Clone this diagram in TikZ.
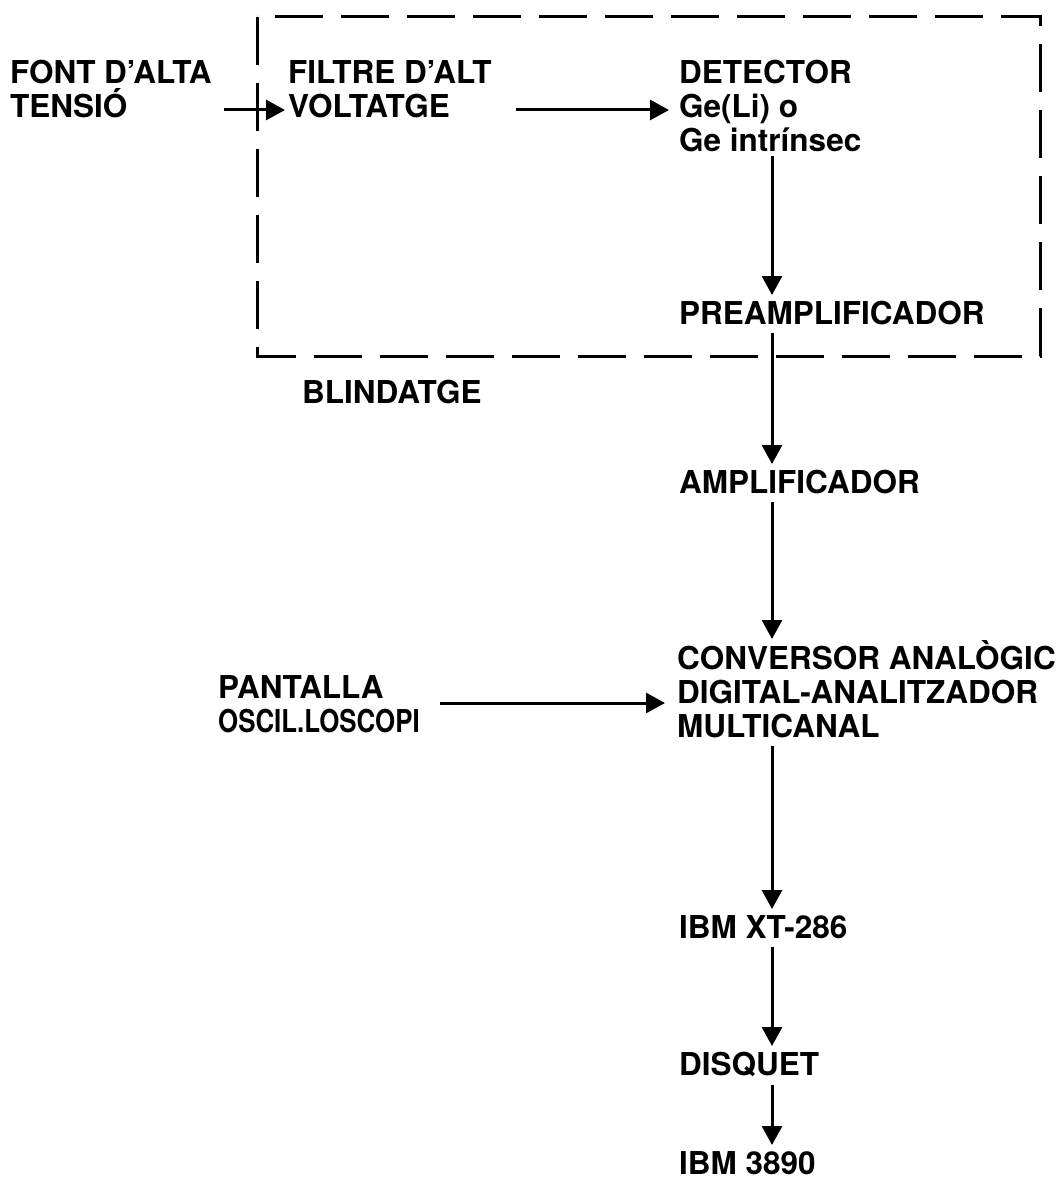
\documentclass[tikz,border=0pt]{standalone}
\usepackage{fontspec}
\setmainfont{TeX Gyre Heros}
\usetikzlibrary{arrows.meta}
\tikzset{lbl/.style = {anchor=north west, inner sep=0, align=left,
                       font=\bfseries\fontsize{31.5}{34}\selectfont,
                       execute at begin node=\rule{0pt}{28pt}}}
\tikzset{arr/.style = {-{Triangle[length=19pt,width=20pt]}, line width=3pt}}
\tikzset{vert/.style = {arr, shorten <=8pt, shorten >=1pt}}
\tikzset{blind/.style = {line width=3pt, dash pattern=on 48pt off 18pt}}

\begin{document}
\begin{tikzpicture}[x=1pt,y=-1pt]
      \useasboundingbox (0,0) rectangle (1063,1182);
      % shielding
      \draw[blind] (257,17) rectangle (1040,356);

      \node[lbl] (font) at (10,60) {FONT D’ALTA\\TENSIÓ};
      \node[lbl] (filtre) at (288,60) {FILTRE D’ALT\\VOLTATGE};
      \node[lbl] (det) at (679,60) {DETECTOR\\Ge(Li) o\\Ge intrínsec};
      \node[lbl] (pre) at (679,296) {PREAMPLIFICADOR};
      \node[lbl] (blind) at (302,375) {BLINDATGE};
      \node[lbl] (amp) at (679,465) {AMPLIFICADOR};
      \node[lbl] (conv) at (677,640) {CONVERSOR ANALÒGIC\\DIGITAL-ANALITZADOR\\MULTICANAL};
      \node[lbl] (pant) at (218,675) {PANTALLA\\\scalebox{0.82}[1]{OSCIL.LOSCOPI}};
      \node[lbl] (xt) at (679,910) {IBM XT-286};
      \node[lbl] (disq) at (679,1047) {DISQUET};
      \node[lbl] (ibm) at (679,1146) {IBM 3890};

      \coordinate (col) at (772,0);
      \coordinate (rowb) at (0,110);
      \coordinate (rowp) at (0,703);

      \draw[arr, shorten <=12pt, shorten >=3pt] (font.east |- rowb) -- (filtre.west |- rowb);
      \draw[arr, shorten <=24pt, shorten >=10pt] (filtre.east |- rowb) -- (det.west |- rowb);
      \draw[arr, shorten <=20pt, shorten >=12pt] (pant.east |- rowp) -- (conv.west |- rowp);

      \draw[vert, shorten <=4pt] (det.south -| col) -- (pre.north -| col);
      \draw[vert] (pre.south -| col) -- (amp.north -| col);
      \draw[vert] (amp.south -| col) -- (conv.north -| col);
      \draw[vert] (conv.south -| col) -- (xt.north -| col);
      \draw[vert] (xt.south -| col) -- (disq.north -| col);
      \draw[vert] (disq.south -| col) -- (ibm.north -| col);
\end{tikzpicture}
\end{document}
